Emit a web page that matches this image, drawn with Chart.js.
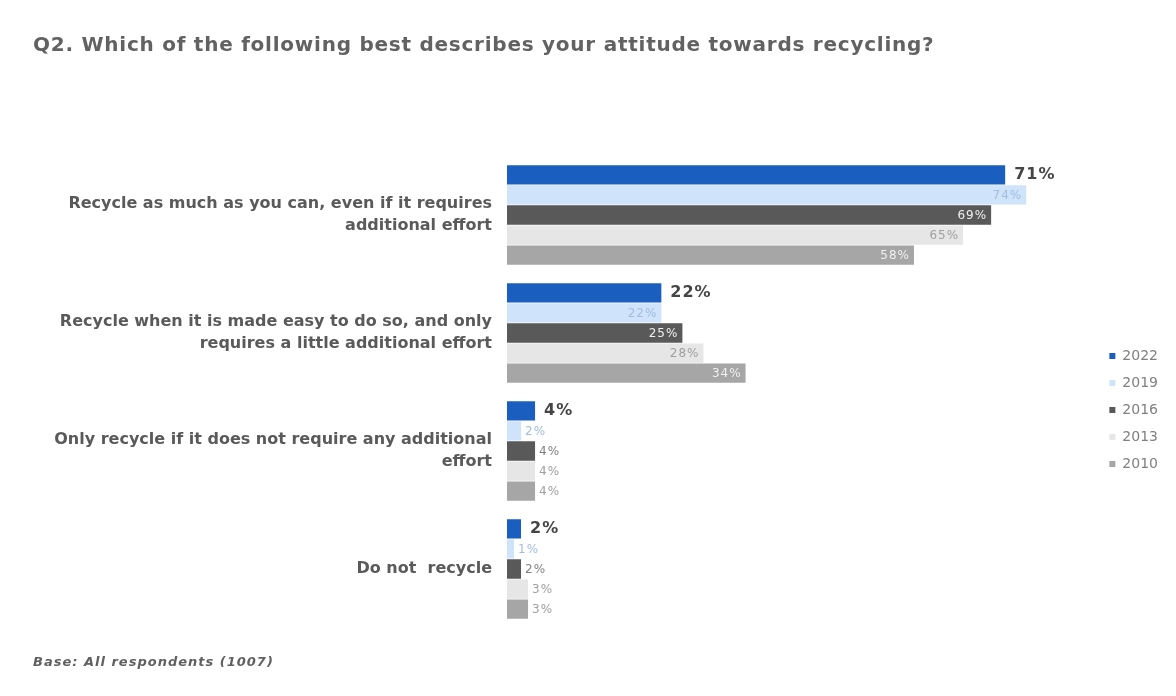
<!DOCTYPE html>
<html>
<head>
<meta charset="utf-8">
<script src="https://cdn.jsdelivr.net/npm/chart.js@4/dist/chart.umd.min.js"></script>
<style>
  html, body { margin: 0; padding: 0; background: #ffffff; }
  #wrap { position: relative; width: 1176px; height: 696px; }
  #title { position: absolute; left: 33px; top: 32px; font: bold 20px "DejaVu Sans", sans-serif; letter-spacing: 0.75px; color: #626262; white-space: nowrap; }
  #base { position: absolute; left: 33px; top: 654px; font: italic bold 13px "DejaVu Sans", sans-serif; letter-spacing: 1px; color: #606060; white-space: nowrap; }
  canvas { position: absolute; left: 0; top: 0; }
</style>
</head>
<body>
<div id="wrap">
  <canvas id="c" width="1176" height="696"></canvas>
  <div id="title">Q2. Which of the following best describes your attitude towards recycling?</div>
  <div id="base">Base: All respondents (1007)</div>
</div>
<script>
const categories = [
  ["Recycle as much as you can, even if it requires", "additional effort"],
  ["Recycle when it is made easy to do so, and only", "requires a little additional effort"],
  ["Only recycle if it does not require any additional", "effort"],
  ["Do not  recycle"]
];
const years = ["2022", "2019", "2016", "2013", "2010"];
const values2022 = [71, 22, 4, 2];
const values2019 = [74, 22, 2, 1];
const values2016 = [69, 25, 4, 2];
const values2013 = [65, 28, 4, 3];
const values2010 = [58, 34, 4, 3];
const seriesValues = [values2022, values2019, values2016, values2013, values2010];

const barColors = ['#1a5fbf', '#cfe4fa', '#595959', '#e6e6e6', '#a6a6a6'];
const insideLabelColors = ['#404040', '#a3bddf', '#f0f0f0', '#a0a0a0', '#f0f0f0'];
const outsideLabelColors = ['#404040', '#a3bddf', '#808080', '#a0a0a0', '#a0a0a0'];

const labelPlugin = {
  id: 'barLabels',
  afterDatasetsDraw(chart) {
    const ctx = chart.ctx;
    chart.data.datasets.forEach((ds, di) => {
      const meta = chart.getDatasetMeta(di);
      meta.data.forEach((bar, i) => {
        const v = ds.data[i];
        const txt = v + '%';
        ctx.save();
        ctx.textBaseline = 'middle';
        if (di === 0) {
          ctx.font = 'bold 16px "DejaVu Sans", sans-serif';
          ctx.letterSpacing = '1px';
          ctx.fillStyle = '#454545';
          ctx.textAlign = 'left';
          ctx.fillText(txt, bar.x + 9, bar.y);
        } else if (v >= 5) {
          ctx.font = '12px "DejaVu Sans", sans-serif';
          ctx.letterSpacing = '1px';
          ctx.fillStyle = insideLabelColors[di];
          ctx.textAlign = 'right';
          ctx.fillText(txt, bar.x - 4, bar.y + 1);
        } else {
          ctx.font = '12px "DejaVu Sans", sans-serif';
          ctx.letterSpacing = '1px';
          ctx.fillStyle = outsideLabelColors[di];
          ctx.textAlign = 'left';
          ctx.fillText(txt, bar.x + 4, bar.y + 1);
        }
        ctx.restore();
      });
    });
  }
};

new Chart(document.getElementById('c'), {
  type: 'bar',
  data: {
    labels: categories,
    datasets: years.map((y, i) => ({
      label: y,
      data: seriesValues[i],
      backgroundColor: barColors[i],
      borderWidth: 0,
      categoryPercentage: 0.85,
      barPercentage: 0.96
    }))
  },
  options: {
    indexAxis: 'y',
    responsive: false,
    animation: false,
    layout: { padding: { top: 156, bottom: 68, left: 0, right: 8 } },
    scales: {
      x: { display: false, min: 0, max: 84 },
      y: {
        grid: { display: false, drawTicks: false },
        border: { display: false },
        ticks: {
          padding: 15,
          color: '#5a5a5a',
          font: { family: '"DejaVu Sans", sans-serif', size: 16, weight: 'bold', lineHeight: 1.35 }
        },
        afterFit(scale) { scale.width = 507; }
      }
    },
    plugins: {
      legend: {
        position: 'right',
        align: 'start',
        title: { display: true, text: '', font: { size: 10, lineHeight: 1 }, padding: { top: 170, bottom: 0 } },
        labels: {
          boxWidth: 6,
          boxHeight: 6,
          padding: 13,
          color: '#808080',
          font: { family: '"DejaVu Sans", sans-serif', size: 14 }
        }
      },
      tooltip: { enabled: false }
    }
  },
  plugins: [labelPlugin]
});
</script>
</body>
</html>
